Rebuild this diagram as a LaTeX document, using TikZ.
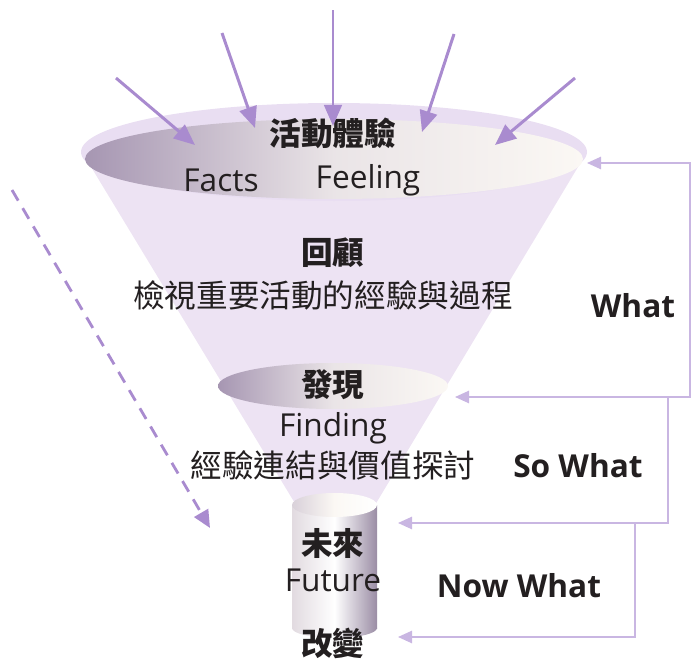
\documentclass[tikz,border=0pt]{standalone}
\usepackage{fontspec}
\setmainfont{Noto Sans CJK TC}
\newfontfamily\latinfont{Open Sans}
\usepackage{xcolor}
\usetikzlibrary{arrows.meta}

\definecolor{conefill}{HTML}{EDE3F3}
\definecolor{rimfill}{HTML}{E9DEF2}
\definecolor{dishdark}{HTML}{A696B2}
\definecolor{dishlight}{HTML}{FBF8F4}
\definecolor{inarrow}{HTML}{A98BCF}
\definecolor{loopline}{HTML}{C9B6E2}
\definecolor{textgray}{HTML}{231F20}

\tikzset{
  label/.style={text=textgray, font=\fontsize{18}{20}\selectfont, inner sep=0pt},
  boldlabel/.style={label, font=\fontsize{18}{20}\selectfont\bfseries},
  englabel/.style={label, font=\fontsize{18}{20}\selectfont\latinfont},
  stagelabel/.style={label, font=\fontsize{18}{20}\selectfont\latinfont\bfseries},
  inflow/.style={inarrow, line width=1.7pt, -{Triangle[length=12pt,width=10pt]}},
  feedback/.style={loopline, line width=1.1pt},
  fbtip/.tip={Triangle[length=8pt,width=7pt]}
}

\begin{document}
\begin{tikzpicture}[x=0.02cm, y=-0.02cm]
        \useasboundingbox (0,0) rectangle (691,659);

        % funnel body
        \fill[conefill] (82,152) -- (296,505) -- (375,505) -- (587,152) -- cycle;
        \fill[rimfill] (334,152) ellipse (253 and 49);
        \shade[left color=dishdark, right color=dishlight, middle color=dishlight!80!dishdark] (334,159) ellipse (249 and 40);

        % middle dish
        \shade[left color=dishdark, right color=dishlight, middle color=dishlight!80!dishdark] (333,386) ellipse (115 and 23);

        % cylinder
        \shade[left color=dishlight!70!dishdark, right color=dishdark!90!black!95, middle color=white] (292,505) rectangle (377,628);
        \shade[left color=dishlight!70!dishdark, right color=dishdark!90!black!95, middle color=white] (334.5,628) ellipse (42.5 and 10);
        \shade[left color=dishlight!60!dishdark, right color=white, middle color=dishlight] (334.5,505) ellipse (42.5 and 12);

        % texts in the funnel
        \node[boldlabel] (exp) at (333,133) {活動體驗};
        \node[englabel] (facts) at (221,180) {Facts};
        \node[englabel] (feel) at (368,180) {Feeling};
        \node[boldlabel] (review) at (333,253) {回顧};
        \node[label] (reviewtxt) at (323,295) {檢視重要活動的經驗與過程};
        \node[boldlabel] (find) at (333,385) {發現};
        \node[englabel] (findeng) at (333,428) {Finding};
        \node[label] (findtxt) at (333,465) {經驗連結與價值探討};
        \node[boldlabel] (future) at (333,543) {未來};
        \node[englabel] (futeng) at (333,580) {Future};
        \node[boldlabel] (change) at (333,643) {改變};

        % incoming arrows
        \foreach \sx/\sy/\ex/\ey [count=\i] in {116/78/195/145, 222/33/255/128, 333/10/333/126, 454/34/422/132, 575/78/495/145} {
          \coordinate (in\i) at (\sx,\sy);
          \coordinate (hit\i) at (\ex,\ey);
          \draw[inflow] (in\i) -- (hit\i);
        }

        % dashed guide
        \coordinate (dashA) at (12,190);
        \coordinate (dashB) at (210,528);
        \draw[inarrow, line width=1.6pt, dash pattern=on 7pt off 5pt, -{Triangle[length=10pt,width=9pt]}] (dashA) -- (dashB);

        % feedback loops
        \coordinate (topR) at (587,163);
        \coordinate (midR) at (455,397);
        \coordinate (cylT) at (398,523);
        \coordinate (cylB) at (398,637);
        \coordinate (w1) at (690,163);
        \coordinate (w2) at (690,397);
        \coordinate (s1) at (668,397);
        \coordinate (s2) at (668,523);
        \coordinate (n1) at (635,523);
        \coordinate (n2) at (635,637);
        \draw[feedback, fbtip-fbtip] (topR) -- (w1) -- (w2) -- (midR);
        \draw[feedback, -fbtip] (s1) -- (s2) -- (cylT);
        \draw[feedback, -fbtip] (n1) -- (n2) -- (cylB);

        \node[stagelabel] (what) at (633,306) {What};
        \node[stagelabel] (sowhat) at (578,466) {So What};
        \node[stagelabel] (nowwhat) at (519,586) {Now What};
    \end{tikzpicture}
\end{document}
